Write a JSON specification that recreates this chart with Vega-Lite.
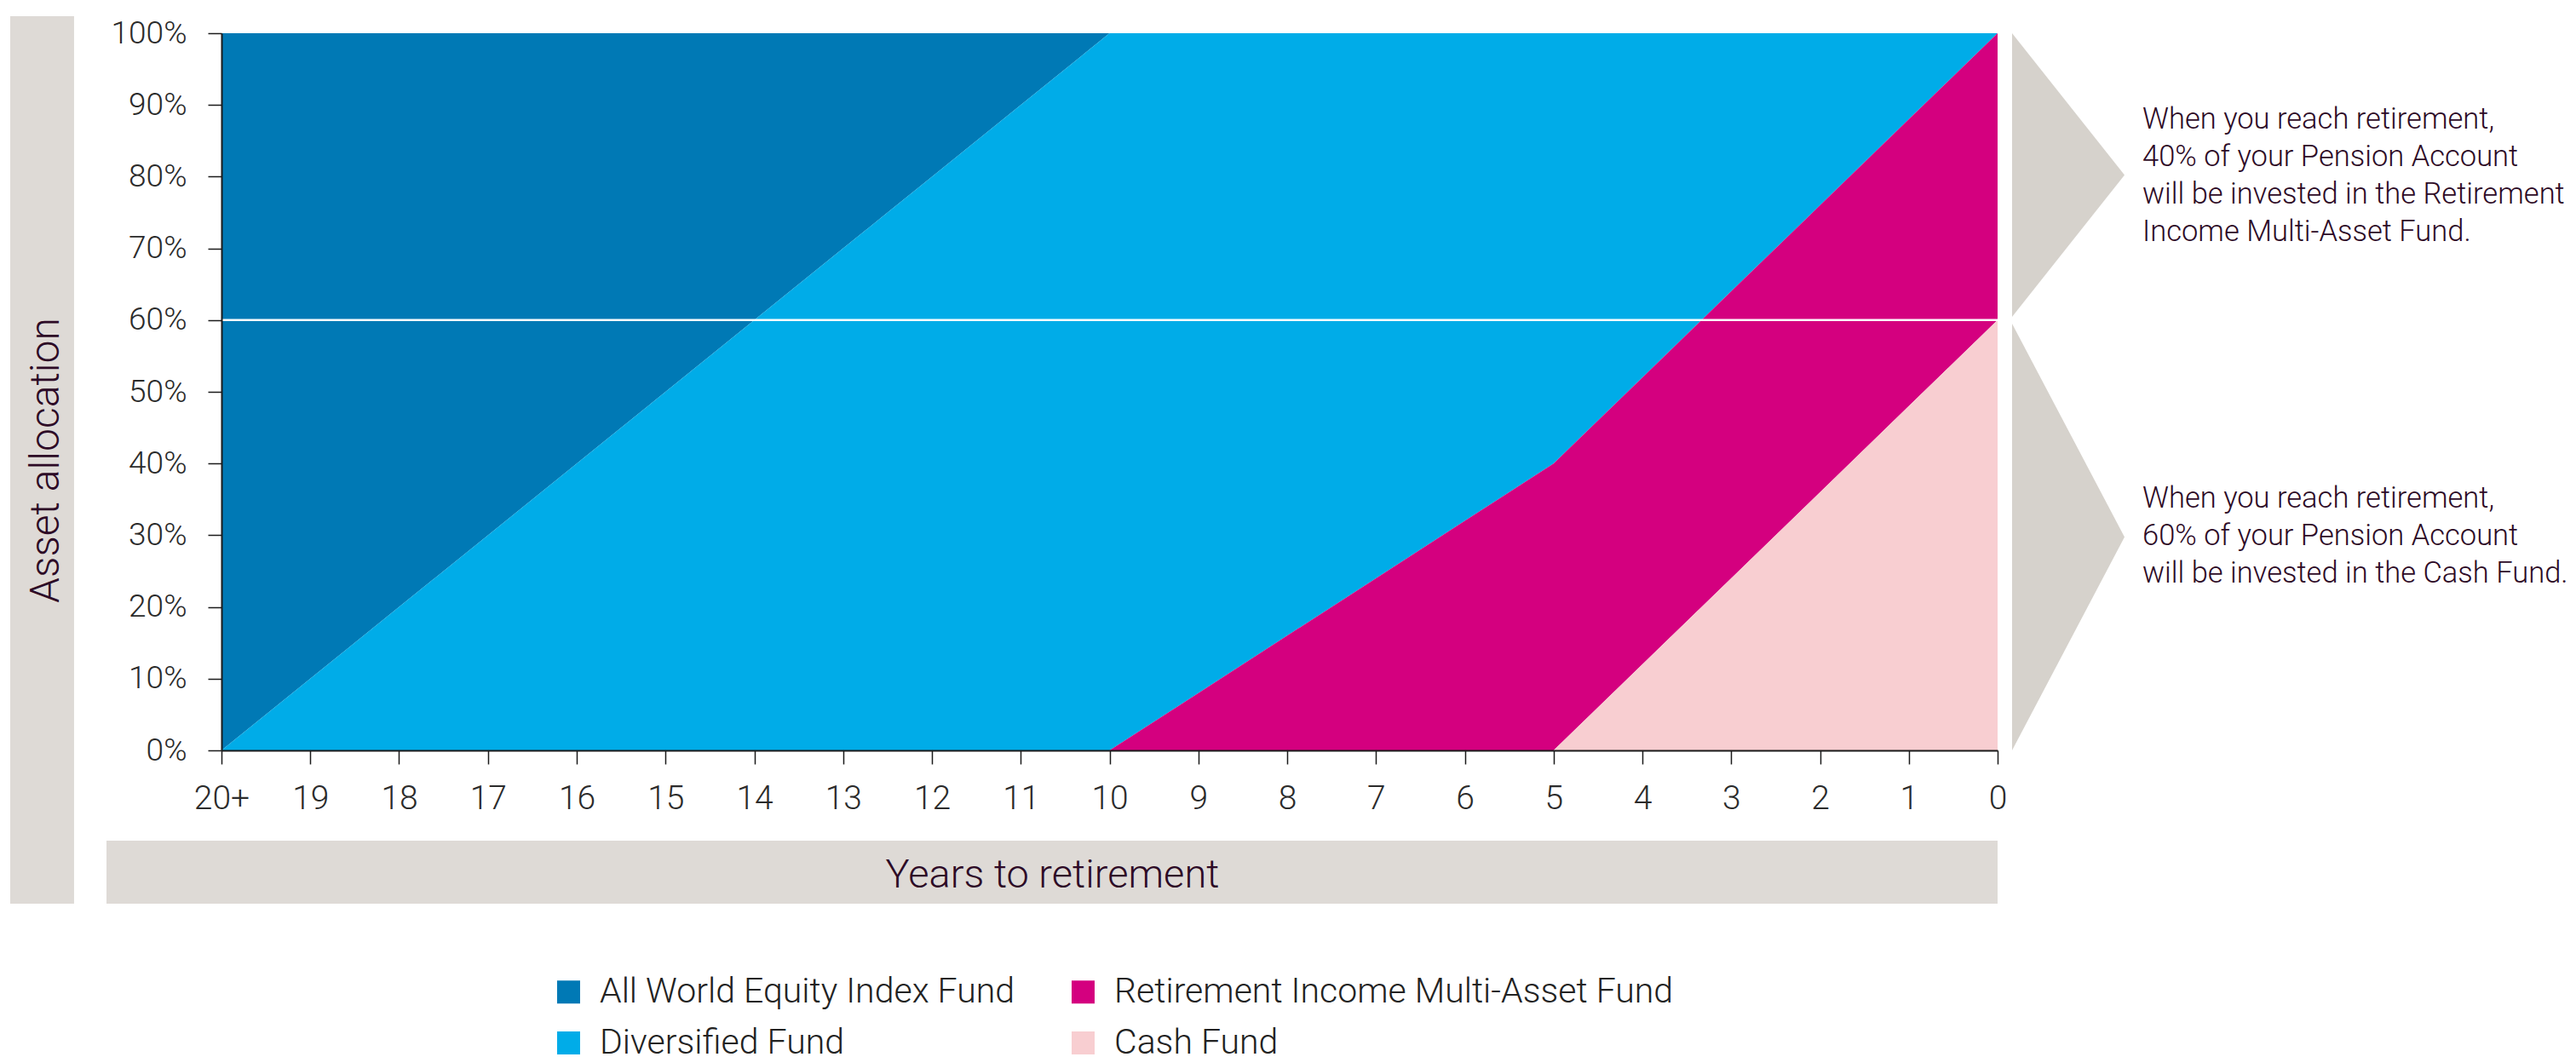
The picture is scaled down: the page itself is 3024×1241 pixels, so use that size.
{
  "$schema": "https://vega.github.io/schema/vega-lite/v6.json",
  "autosize": {"type": "none"},
  "width": 2085,
  "height": 842,
  "padding": {"left": 260, "top": 39, "right": 679, "bottom": 360},
  "background": "white",
  "config": {
    "view": {"stroke": null},
    "font": "Roboto",
    "axis": {
      "grid": false,
      "domainColor": "#1a1a1a",
      "domainWidth": 2,
      "tickColor": "#1a1a1a",
      "tickWidth": 1.5,
      "tickSize": 16,
      "labelFont": "Roboto",
      "labelFontWeight": 300,
      "labelColor": "#2b2b2b",
      "labelFlush": false,
      "labelOverlap": false,
      "titleFont": "Roboto",
      "titleFontWeight": 300,
      "titleColor": "#2d0a26"
    },
    "legend": {
      "orient": "none",
      "legendX": 387,
      "legendY": 1105,
      "columns": 2,
      "columnPadding": 59,
      "rowPadding": 18,
      "padding": 0,
      "symbolType": "square",
      "symbolSize": 729,
      "symbolStrokeWidth": 0,
      "labelOffset": 16,
      "labelFont": "Roboto",
      "labelFontWeight": 300,
      "labelFontSize": 41,
      "labelColor": "#222222",
      "labelLimit": 0,
      "title": null
    }
  },
  "layer": [
    {
      "data": {"values": [{}]},
      "mark": {"type": "rect", "color": "#dedad6"},
      "encoding": {
        "x": {"datum": 22.379, "type": "quantitative"},
        "x2": {"datum": 21.66},
        "y": {"datum": 1.0238, "type": "quantitative"},
        "y2": {"datum": -0.2138}
      }
    },
    {
      "data": {"values": [{}]},
      "mark": {"type": "rect", "color": "#dedad6"},
      "encoding": {
        "x": {"datum": 21.295, "type": "quantitative"},
        "x2": {"datum": 0},
        "y": {"datum": -0.1259, "type": "quantitative"},
        "y2": {"datum": -0.2138}
      }
    },
    {
      "data": {
        "values": [
          {"years": 20, "All World Equity Index Fund": 1.00, "Diversified Fund": 0.00, "Retirement Income Multi-Asset Fund": 0.00, "Cash Fund": 0.00},
          {"years": 19, "All World Equity Index Fund": 0.90, "Diversified Fund": 0.10, "Retirement Income Multi-Asset Fund": 0.00, "Cash Fund": 0.00},
          {"years": 18, "All World Equity Index Fund": 0.80, "Diversified Fund": 0.20, "Retirement Income Multi-Asset Fund": 0.00, "Cash Fund": 0.00},
          {"years": 17, "All World Equity Index Fund": 0.70, "Diversified Fund": 0.30, "Retirement Income Multi-Asset Fund": 0.00, "Cash Fund": 0.00},
          {"years": 16, "All World Equity Index Fund": 0.60, "Diversified Fund": 0.40, "Retirement Income Multi-Asset Fund": 0.00, "Cash Fund": 0.00},
          {"years": 15, "All World Equity Index Fund": 0.50, "Diversified Fund": 0.50, "Retirement Income Multi-Asset Fund": 0.00, "Cash Fund": 0.00},
          {"years": 14, "All World Equity Index Fund": 0.40, "Diversified Fund": 0.60, "Retirement Income Multi-Asset Fund": 0.00, "Cash Fund": 0.00},
          {"years": 13, "All World Equity Index Fund": 0.30, "Diversified Fund": 0.70, "Retirement Income Multi-Asset Fund": 0.00, "Cash Fund": 0.00},
          {"years": 12, "All World Equity Index Fund": 0.20, "Diversified Fund": 0.80, "Retirement Income Multi-Asset Fund": 0.00, "Cash Fund": 0.00},
          {"years": 11, "All World Equity Index Fund": 0.10, "Diversified Fund": 0.90, "Retirement Income Multi-Asset Fund": 0.00, "Cash Fund": 0.00},
          {"years": 10, "All World Equity Index Fund": 0.00, "Diversified Fund": 1.00, "Retirement Income Multi-Asset Fund": 0.00, "Cash Fund": 0.00},
          {"years": 9, "All World Equity Index Fund": 0.00, "Diversified Fund": 0.92, "Retirement Income Multi-Asset Fund": 0.08, "Cash Fund": 0.00},
          {"years": 8, "All World Equity Index Fund": 0.00, "Diversified Fund": 0.84, "Retirement Income Multi-Asset Fund": 0.16, "Cash Fund": 0.00},
          {"years": 7, "All World Equity Index Fund": 0.00, "Diversified Fund": 0.76, "Retirement Income Multi-Asset Fund": 0.24, "Cash Fund": 0.00},
          {"years": 6, "All World Equity Index Fund": 0.00, "Diversified Fund": 0.68, "Retirement Income Multi-Asset Fund": 0.32, "Cash Fund": 0.00},
          {"years": 5, "All World Equity Index Fund": 0.00, "Diversified Fund": 0.60, "Retirement Income Multi-Asset Fund": 0.40, "Cash Fund": 0.00},
          {"years": 4, "All World Equity Index Fund": 0.00, "Diversified Fund": 0.48, "Retirement Income Multi-Asset Fund": 0.40, "Cash Fund": 0.12},
          {"years": 3, "All World Equity Index Fund": 0.00, "Diversified Fund": 0.36, "Retirement Income Multi-Asset Fund": 0.40, "Cash Fund": 0.24},
          {"years": 2, "All World Equity Index Fund": 0.00, "Diversified Fund": 0.24, "Retirement Income Multi-Asset Fund": 0.40, "Cash Fund": 0.36},
          {"years": 1, "All World Equity Index Fund": 0.00, "Diversified Fund": 0.12, "Retirement Income Multi-Asset Fund": 0.40, "Cash Fund": 0.48},
          {"years": 0, "All World Equity Index Fund": 0.00, "Diversified Fund": 0.00, "Retirement Income Multi-Asset Fund": 0.40, "Cash Fund": 0.60}
        ]
      },
      "transform": [
        {"fold": ["All World Equity Index Fund", "Diversified Fund", "Retirement Income Multi-Asset Fund", "Cash Fund"], "as": ["fund", "share"]},
        {"calculate": "indexof(['Cash Fund', 'Retirement Income Multi-Asset Fund', 'Diversified Fund', 'All World Equity Index Fund'], datum.fund)", "as": "stackOrder"}
      ],
      "mark": {"type": "area", "interpolate": "linear"},
      "encoding": {
        "x": {
          "field": "years",
          "type": "quantitative",
          "scale": {"domain": [0, 20], "reverse": true, "nice": false, "zero": false},
          "axis": {
            "zindex": 1,
            "values": [0, 1, 2, 3, 4, 5, 6, 7, 8, 9, 10, 11, 12, 13, 14, 15, 16, 17, 18, 19, 20],
            "format": "d",
            "labelExpr": "datum.value == 20 ? '20+' : format(datum.value, 'd')",
            "labelFontSize": 39,
            "labelPadding": 21,
            "title": "Years to retirement",
            "titleFontSize": 47,
            "titleX": 975,
            "titleY": 160,
            "titleBaseline": "alphabetic",
            "titleAlign": "center",
            "titleAnchor": null
          }
        },
        "y": {
          "field": "share",
          "type": "quantitative",
          "stack": "zero",
          "scale": {"domain": [0, 1], "nice": false},
          "axis": {
            "zindex": 1,
            "values": [0, 0.1, 0.2, 0.3, 0.4, 0.5, 0.6, 0.7, 0.8, 0.9, 1],
            "format": ".0%",
            "labelFontSize": 37,
            "labelPadding": 25,
            "title": "Asset allocation",
            "titleFontSize": 48,
            "titleAngle": 270,
            "titleX": -192,
            "titleY": 501,
            "titleBaseline": "alphabetic",
            "titleAlign": "center",
            "titleAnchor": null
          }
        },
        "color": {
          "field": "fund",
          "type": "nominal",
          "scale": {
            "domain": ["All World Equity Index Fund", "Diversified Fund", "Retirement Income Multi-Asset Fund", "Cash Fund"],
            "range": ["#0079b5", "#00ace8", "#d4007f", "#f8ced1"]
          },
          "legend": {
            "encode": {
              "symbols": {
                "update": {
                  "fill": {"signal": "datum.value === 'All World Equity Index Fund' ? '#0088bf' : datum.value === 'Retirement Income Multi-Asset Fund' ? '#d8418c' : datum.value === 'Diversified Fund' ? '#00b8ee' : '#f4abb1'"}
                }
              }
            }
          }
        },
        "order": {"field": "stackOrder", "type": "quantitative"}
      }
    },
    {
      "data": {"values": [{}]},
      "mark": {"type": "rule", "color": "white", "strokeWidth": 2.5},
      "encoding": {
        "y": {"datum": 0.6, "type": "quantitative"}
      }
    },
    {
      "data": {"values": [{}]},
      "mark": {"type": "point", "shape": "M0,-1L0.793,0L0,1Z", "size": 110889, "filled": true, "fill": "#d6d2cc", "opacity": 1, "strokeWidth": 0},
      "encoding": {
        "x": {"datum": -0.163, "type": "quantitative"},
        "y": {"datum": 0.8023, "type": "quantitative"}
      }
    },
    {
      "data": {"values": [{}]},
      "mark": {"type": "point", "shape": "M0,-1L0.527,0L0,1Z", "size": 251001, "filled": true, "fill": "#d6d2cc", "opacity": 1, "strokeWidth": 0},
      "encoding": {
        "x": {"datum": -0.163, "type": "quantitative"},
        "y": {"datum": 0.2975, "type": "quantitative"}
      }
    },
    {
      "data": {"values": [{}]},
      "mark": {
        "type": "text",
        "text": ["When you reach retirement,", "40% of your Pension Account", "will be invested in the Retirement", "Income Multi-Asset Fund."],
        "align": "left",
        "baseline": "middle",
        "fontSize": 34.5,
        "fontWeight": 300,
        "lineHeight": 44,
        "color": "#2d0a26"
      },
      "encoding": {
        "x": {"datum": -1.631, "type": "quantitative"},
        "y": {"datum": 0.8789, "type": "quantitative"}
      }
    },
    {
      "data": {"values": [{}]},
      "mark": {
        "type": "text",
        "text": ["When you reach retirement,", "60% of your Pension Account", "will be invested in the Cash Fund."],
        "align": "left",
        "baseline": "middle",
        "fontSize": 34.5,
        "fontWeight": 300,
        "lineHeight": 44,
        "color": "#2d0a26"
      },
      "encoding": {
        "x": {"datum": -1.631, "type": "quantitative"},
        "y": {"datum": 0.3504, "type": "quantitative"}
      }
    }
  ]
}
